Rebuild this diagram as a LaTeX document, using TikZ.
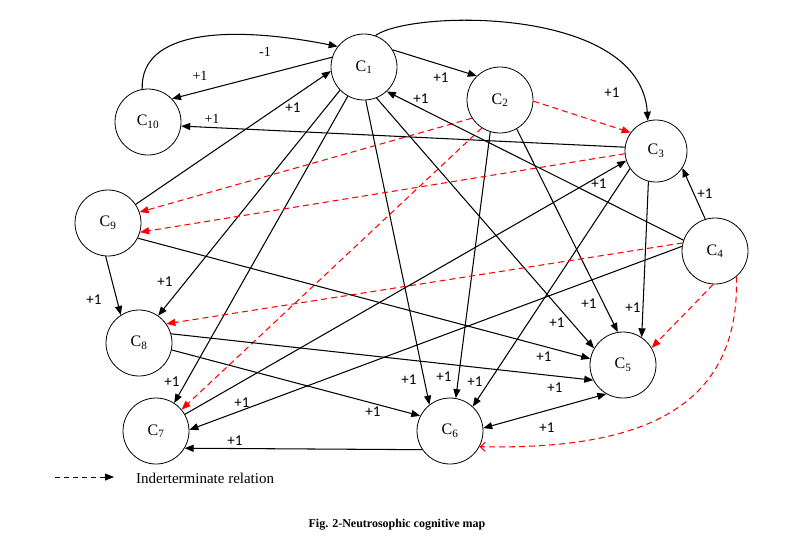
\documentclass[tikz,border=0pt]{standalone}
\usepackage{fontspec}
\setmainfont{Liberation Serif}
\newfontfamily\wtfont{Carlito}
\usetikzlibrary{arrows.meta}

\begin{document}
\begin{tikzpicture}[x=1pt,y=-1pt,
    concept/.style={circle,draw,line width=0.8pt,minimum size=66pt,inner sep=0pt,
      font=\fontsize{16}{18}\selectfont},
    rel/.style={line width=1.05pt,>={Triangle[length=9pt,width=7pt]},->},
    ind/.style={rel,red,dash pattern=on 6pt off 4pt},
    wt/.style={font=\wtfont\fontsize{15}{16}\selectfont,inner sep=0pt},
    wtserif/.style={font=\fontsize{14}{16}\selectfont,inner sep=0pt}]
  \useasboundingbox (0,0) rectangle (794,542);

  % Concepts
  \node[concept] (c1) at (364,67) {C\textsubscript{1}};
  \node[concept] (c2) at (500,100) {C\textsubscript{2}};
  \node[concept,minimum size=62pt] (c3) at (656,151) {C\textsubscript{3}};
  \node[concept] (c4) at (715,251) {C\textsubscript{4}};
  \node[concept] (c5) at (623,365) {C\textsubscript{5}};
  \node[concept] (c6) at (450,431) {C\textsubscript{6}};
  \node[concept] (c7) at (156,431) {C\textsubscript{7}};
  \node[concept] (c8) at (139,343) {C\textsubscript{8}};
  \node[concept] (c9) at (108,223) {C\textsubscript{9}};
  \node[concept] (c10) at (148,122) {C\textsubscript{10}};

  % From C1
  \draw[rel] (c1.163) -- (c10.44);
  \draw[rel] (c1.31) -- (c2.134);
  \draw[rel] (c1.70) .. controls (410,10) and (640,5) .. (c3.105);
  \draw[rel] (c1.224) -- (c8.55);
  \draw[rel] (c1.241) -- (c7.57);
  \draw[rel] (c1.273) -- (c6.128);
  \draw[rel] (c1.292) -- (c5.150);

  % From C2
  \draw[ind] (c2.-2) -- (c3.144);
  \draw[ind] (c2.213) -- (c9.19);
  \draw[ind] (c2.237) -- (c7.40);
  \draw[rel] (c2.253) -- (c6.80);
  \draw[rel] (c2.300) -- (c5.99);

  % From C3
  \draw[rel] (c3.173) -- (c10.-7);
  \draw[ind] (c3.185) -- (c9.-16);
  \draw[rel] (c3.214) -- (c6.47);
  \draw[rel] (c3.256) -- (c5.56);

  % From C4
  \draw[rel] (c4.161) -- (c1.-47);
  \draw[rel] (c4.107) -- (c3.-33);
  \draw[ind] (c4.166) -- (c8.35);
  \draw[rel] (c4.172) -- (c7.2);
  \draw[ind] (c4.267) -- (c5.31);
  \draw[ind,-{Straight Barb[length=5pt,width=9pt]}] (c4.310)
    .. controls (740,410) and (640,450) .. (c6.-28);

  % From C6 .. C10
  \draw[rel] (c6.214) -- (c7.-31);
  \draw[rel,<->] (c6.5) -- (c5.240);
  \draw[rel] (c7.30) -- (c3.198);
  \draw[rel] (c8.-12) -- (c6.153);
  \draw[rel] (c8.16) -- (c5.207);
  \draw[rel] (c9.34) -- (c1.187);
  \draw[rel] (c9.266) -- (c8.123);
  \draw[rel] (c9.-27) -- (c5.169);
  \draw[rel] (c10.100) .. controls (140,30) and (230,25) .. (c1.142);

  % Weights
  \node[wtserif] (w10-1) at (265,52) {-1};
  \node[wtserif] (w1-10) at (200,76) {+1};
  \node[wtserif] (w3-10) at (212,119) {+1};
  \node[wt] (w9-1) at (293,108) {+1};
  \node[wt] (w1-2) at (441,78) {+1};
  \node[wt] (w4-1) at (421,99) {+1};
  \node[wt] (w1-3) at (612,93) {+1};
  \node[wt] (w9-8) at (94,300) {+1};
  \node[wt] (w1-8) at (165,282) {+1};
  \node[wt] (w1-7) at (172,382) {+1};
  \node[wt] (w7-3) at (599,184) {+1};
  \node[wt] (w4-7) at (242,403) {+1};
  \node[wt] (w6-7) at (235,441) {+1};
  \node[wt] (w1-6) at (409,380) {+1};
  \node[wt] (w2-6) at (444,377) {+1};
  \node[wt] (w3-6) at (475,382) {+1};
  \node[wt] (w8-6) at (373,412) {+1};
  \node[wt] (w1-5) at (557,323) {+1};
  \node[wt] (w2-5) at (589,304) {+1};
  \node[wt] (w3-5) at (633,308) {+1};
  \node[wt] (w9-5) at (544,357) {+1};
  \node[wt] (w8-5) at (555,388) {+1};
  \node[wt] (w6-5) at (547,428) {+1};
  \node[wt] (w4-3) at (705,194) {+1};

  % Legend and caption
  \coordinate (lgA) at (55,477);
  \coordinate (lgB) at (114,477);
  \draw[rel,line width=0.8pt,dash pattern=on 5pt off 4pt] (lgA) -- (lgB);
  \node[anchor=west,inner sep=0pt,font=\fontsize{15}{18}\selectfont] (lgtext) at (136,478)
    {Inderterminate relation};
  \node[font=\bfseries\fontsize{12}{14}\selectfont] (cap) at (397,525)
    {Fig. 2-Neutrosophic cognitive map};
\end{tikzpicture}
\end{document}
